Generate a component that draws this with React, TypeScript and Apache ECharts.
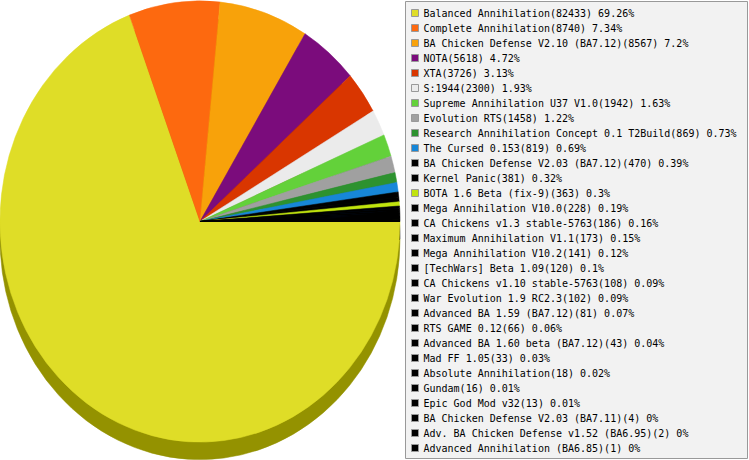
import React, { useEffect, useRef } from "react";
import * as echarts from "echarts";

const names: string[] = [
  "Balanced Annihilation",
  "Complete Annihilation",
  "BA Chicken Defense V2.10 (BA7.12)",
  "NOTA",
  "XTA",
  "S:1944",
  "Supreme Annihilation U37 V1.0",
  "Evolution RTS",
  "Research Annihilation Concept 0.1 T2Build",
  "The Cursed 0.153",
  "BA Chicken Defense V2.03 (BA7.12)",
  "Kernel Panic",
  "BOTA 1.6 Beta (fix-9)",
  "Mega Annihilation V10.0",
  "CA Chickens v1.3 stable-5763",
  "Maximum Annihilation V1.1",
  "Mega Annihilation V10.2",
  "[TechWars] Beta 1.09",
  "CA Chickens v1.10 stable-5763",
  "War Evolution 1.9 RC2.3",
  "Advanced BA 1.59 (BA7.12)",
  "RTS GAME 0.12",
  "Advanced BA 1.60 beta (BA7.12)",
  "Mad FF 1.05",
  "Absolute Annihilation",
  "Gundam",
  "Epic God Mod v32",
  "BA Chicken Defense V2.03 (BA7.11)",
  "Adv. BA Chicken Defense v1.52 (BA6.95)",
  "Advanced Annihilation (BA6.85)",
];

const values: number[] = [
  82433, 8740, 8567, 5618, 3726, 2300, 1942, 1458, 869, 819, 470, 381, 363,
  228, 186, 173, 141, 120, 108, 102, 81, 66, 43, 33, 18, 16, 13, 4, 2, 1,
];

const colors: string[] = [
  "#dfdd27", "#fd690f", "#f8a20a", "#7b0c7c", "#d93600", "#ebebeb",
  "#63d13a", "#a0a0a0", "#2d922f", "#1787d8", "#000000", "#000000",
  "#c0e30d", "#000000", "#000000", "#000000", "#000000", "#000000",
  "#000000", "#000000", "#000000", "#000000", "#000000", "#000000",
  "#000000", "#000000", "#000000", "#000000", "#000000", "#000000",
];

function darken(hex: string, amt: number): string {
  const n = parseInt(hex.slice(1), 16);
  const r = Math.max(0, ((n >> 16) & 255) - amt);
  const g = Math.max(0, ((n >> 8) & 255) - amt);
  const b = Math.max(0, (n & 255) - amt);
  return "#" + ((1 << 24) | (r << 16) | (g << 8) | b).toString(16).slice(1);
}

export default function App() {
  const ref = useRef<HTMLDivElement>(null);

  useEffect(() => {
    if (!ref.current) return;
    const chart = echarts.init(ref.current, undefined, { renderer: "svg" });

    const total = values.reduce((a, b) => a + b, 0);
    const cum: number[] = [];
    let acc = 0;
    values.forEach((v) => {
      cum.push(acc);
      acc += v;
    });
    const pct = (v: number) => String(Math.round((v / total) * 10000) / 100);
    const nameIndex: Record<string, number> = {};
    names.forEach((n, i) => (nameIndex[n] = i));

    const cx = 200;
    const cy = 221.5;
    const rx = 200;
    const ry = 220.5;
    const depth = 17.5;

    const makeRender = (offsetY: number, dark: boolean) => (params: any, api: any) => {
      const i = params.dataIndex;
      const v = api.value(0);
      const start = (cum[i] / total) * Math.PI * 2;
      const end = ((cum[i] + v) / total) * Math.PI * 2;
      const fill = dark ? darken(colors[i], 75) : colors[i];
      return {
        type: "sector",
        shape: { cx: 0, cy: 0, r0: 0, r: rx, startAngle: start, endAngle: end, clockwise: true },
        x: cx,
        y: cy + offsetY,
        scaleX: 1,
        scaleY: ry / rx,
        style: { fill, stroke: fill, lineWidth: 0.5 },
      };
    };

    chart.setOption({
      animation: false,
      backgroundColor: "#ffffff",
      graphic: [
        {
          type: "rect",
          z: 0,
          shape: { x: 405.5, y: 1.5, width: 342, height: 457 },
          style: { fill: "#f2f2f2", stroke: "#999999", lineWidth: 1 },
          silent: true,
        },
      ],
      legend: {
        orient: "vertical",
        left: 411,
        top: 5.5,
        padding: 0,
        itemGap: 0,
        itemWidth: 7,
        itemHeight: 7,
        icon: "rect",
        selectedMode: false,
        data: names,
        itemStyle: { borderColor: "#999999", borderWidth: 1 },
        textStyle: {
          fontFamily: "DejaVu Sans Mono",
          fontSize: 10,
          lineHeight: 15,
          color: "#000000",
        },
        formatter: (name: string) => {
          const i = nameIndex[name];
          return `${name}(${values[i]}) ${pct(values[i])}%`;
        },
      },
      series: [
        {
          type: "custom",
          name: "side",
          coordinateSystem: "none",
          silent: true,
          data: values,
          renderItem: makeRender(depth, true),
        },
        {
          type: "custom",
          name: "top",
          coordinateSystem: "none",
          silent: true,
          data: values,
          renderItem: makeRender(0, false),
        },
        {
          type: "pie",
          name: "legendSource",
          center: [-500, -500],
          radius: [0, 0],
          silent: true,
          label: { show: false },
          labelLine: { show: false },
          data: names.map((n, i) => ({
            name: n,
            value: values[i],
            itemStyle: { color: colors[i] },
          })),
        },
      ],
    });

    return () => chart.dispose();
  }, []);

  return (
    <div
      ref={ref}
      style={{ position: "fixed", left: 0, top: 0, width: 749, height: 460 }}
    />
  );
}
